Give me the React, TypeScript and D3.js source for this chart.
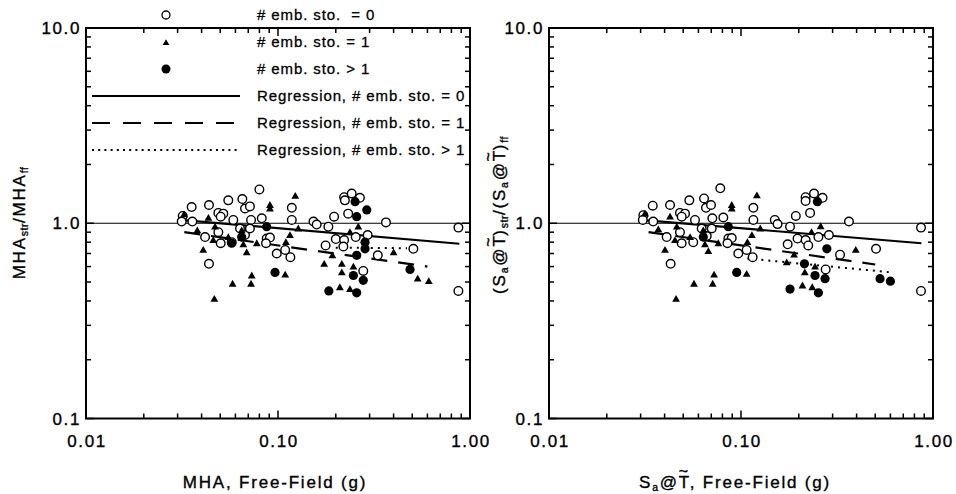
import React from 'react';
import * as d3 from 'd3';

// ---------- axes ----------
const xDomain: [number, number] = [0.01, 1];
const yDomain: [number, number] = [0.1, 10];
const xTickValues = [0.01, 0.1, 1];
const xTickLabels = ['0.01', '0.10', '1.00'];
const yTickValues = [0.1, 1, 10];
const yTickLabels = ['0.1', '1.0', '10.0'];

const legendLabels = [
  '# emb. sto.  = 0',
  '# emb. sto. = 1',
  '# emb. sto. > 1',
  'Regression, # emb. sto. = 0',
  'Regression, # emb. sto. = 1',
  'Regression, # emb. sto. > 1',
];

// ---------- left panel: MHA ----------
const mhaOpen: [number, number][] = [
  [0.080, 1.49], [0.0355, 1.21], [0.0437, 1.24], [0.0551, 1.31], [0.0652, 1.33], [0.0673, 1.19],
  [0.0714, 1.22], [0.0489, 1.13], [0.0519, 1.12], [0.0503, 1.08], [0.0319, 1.09], [0.0315, 1.02],
  [0.0358, 1.02], [0.0585, 1.04], [0.0724, 1.04], [0.0823, 1.06], [0.118, 1.20], [0.118, 1.04],
  [0.153, 1.02], [0.159, 0.985], [0.0417, 0.85], [0.0489, 0.90], [0.0503, 0.79], [0.0574, 0.80],
  [0.0673, 0.87], [0.0714, 0.94], [0.0873, 0.835], [0.0908, 0.845], [0.0866, 0.79], [0.0985, 0.70],
  [0.109, 0.73], [0.116, 0.67], [0.0437, 0.62], [0.0634, 0.94],
  [0.221, 1.36], [0.242, 1.42], [0.267, 1.35], [0.223, 1.31], [0.196, 1.08], [0.232, 1.12],
  [0.183, 0.96], [0.365, 1.01], [0.87, 0.95], [0.20, 0.83], [0.221, 0.82], [0.254, 0.85],
  [0.293, 0.87], [0.177, 0.77], [0.219, 0.76], [0.331, 0.685], [0.507, 0.74], [0.278, 0.57],
  [0.87, 0.45],
];
const mhaTri: [number, number][] = [
  [0.123, 1.38], [0.0908, 1.24], [0.0908, 1.19], [0.0324, 1.11], [0.0434, 1.065], [0.047, 0.96],
  [0.038, 0.92], [0.1155, 0.87], [0.1275, 0.94], [0.0551, 0.85], [0.0647, 0.92], [0.046, 0.82],
  [0.066, 0.78], [0.0775, 0.79], [0.110, 0.80], [0.0408, 0.73], [0.0687, 0.71], [0.073, 0.54],
  [0.109, 0.545], [0.058, 0.49], [0.0724, 0.49], [0.0466, 0.41],
  [0.262, 0.96], [0.174, 0.62], [0.192, 0.685], [0.215, 0.62], [0.215, 0.56], [0.247, 0.60],
  [0.21, 0.47], [0.237, 0.46], [0.40, 0.71], [0.534, 0.52], [0.61, 0.505], [0.237, 0.90],
];
const mhaFull: [number, number][] = [
  [0.0965, 0.56], [0.0647, 0.85], [0.0873, 0.96], [0.0574, 0.79], [0.252, 1.29], [0.29, 1.17],
  [0.257, 1.08], [0.284, 0.80], [0.284, 0.74], [0.257, 0.685], [0.247, 0.54], [0.278, 0.51],
  [0.184, 0.45], [0.257, 0.44], [0.487, 0.58],
];
const mhaReg0: [number, number][] = [[0.031, 1.04], [0.88, 0.785]];
const mhaReg1: [number, number][] = [[0.0325, 0.90], [0.60, 0.60]];
const mhaReg2: [number, number][] = [[0.20, 0.75], [0.47, 0.745]];

// ---------- right panel: Sa @ T~ ----------
const saOpen: [number, number][] = [
  [0.078, 1.51], [0.0347, 1.23], [0.0427, 1.24], [0.0538, 1.31], [0.0642, 1.34], [0.0657, 1.20],
  [0.0698, 1.24], [0.0481, 1.13], [0.0511, 1.12], [0.0491, 1.08], [0.031, 1.10], [0.0308, 1.04],
  [0.0349, 1.02], [0.0576, 1.04], [0.0709, 1.06], [0.0809, 1.07], [0.116, 1.20], [0.116, 1.04],
  [0.150, 1.04], [0.155, 0.99], [0.041, 0.85], [0.0481, 0.90], [0.0491, 0.79], [0.0564, 0.80],
  [0.0663, 0.86], [0.0704, 0.94], [0.0859, 0.835], [0.0895, 0.84], [0.085, 0.79], [0.0968, 0.70],
  [0.107, 0.73], [0.115, 0.67], [0.043, 0.62], [0.0624, 0.94],
  [0.217, 1.36], [0.24, 1.42], [0.266, 1.35], [0.217, 1.30], [0.193, 1.09], [0.229, 1.13],
  [0.18, 0.96], [0.365, 1.02], [0.866, 0.95], [0.197, 0.835], [0.217, 0.82], [0.224, 0.77],
  [0.253, 0.85], [0.287, 0.87], [0.175, 0.78], [0.328, 0.69], [0.505, 0.74], [0.276, 0.58],
  [0.866, 0.45],
];
const saTri: [number, number][] = [
  [0.121, 1.39], [0.0895, 1.24], [0.0895, 1.19], [0.0316, 1.12], [0.0427, 1.08], [0.0463, 0.96],
  [0.0371, 0.93], [0.114, 0.87], [0.126, 0.94], [0.0543, 0.85], [0.0636, 0.92], [0.0453, 0.82],
  [0.0649, 0.78], [0.0762, 0.79], [0.108, 0.80], [0.0402, 0.73], [0.0676, 0.72], [0.0724, 0.545],
  [0.107, 0.55], [0.0569, 0.49], [0.0712, 0.49], [0.0459, 0.41],
  [0.26, 0.965], [0.189, 0.69], [0.173, 0.63], [0.215, 0.56], [0.243, 0.60], [0.209, 0.48],
  [0.235, 0.47], [0.396, 0.73], [0.233, 0.90],
];
const saFull: [number, number][] = [
  [0.095, 0.56], [0.0636, 0.85], [0.0859, 0.96], [0.25, 1.29], [0.28, 0.74], [0.214, 0.62],
  [0.243, 0.54], [0.274, 0.52], [0.18, 0.46], [0.253, 0.44], [0.53, 0.52], [0.60, 0.505],
];
const saReg0: [number, number][] = [[0.030, 1.04], [0.87, 0.79]];
const saReg1: [number, number][] = [[0.033, 0.90], [0.50, 0.615]];
const saReg2: [number, number][] = [[0.108, 0.66], [0.61, 0.56]];

// ---------- layout ----------
const PW = 384;
const TOP = 28;
const BOTTOM = 418.5;
const FONT = '"Liberation Sans", Arial, Helvetica, sans-serif';

const triPath = (cx: number, cy: number, s = 1) =>
  `M${cx},${cy - 3.9 * s}L${cx + 3.9 * s},${cy + 2.9 * s}L${cx - 3.9 * s},${cy + 2.9 * s}Z`;

function minorTicks(domain: [number, number]) {
  const out: { v: number; major: boolean }[] = [];
  for (let d = domain[0]; d < domain[1] * 0.999; d *= 10) {
    for (let m = 1; m <= 9; m++) out.push({ v: d * m, major: m === 1 });
  }
  out.push({ v: domain[1], major: true });
  return out;
}

type PanelProps = {
  left: number;
  open: [number, number][];
  tri: [number, number][];
  full: [number, number][];
  reg0: [number, number][];
  reg1: [number, number][];
  reg2: [number, number][];
  yTitle: React.ReactNode;
  xTitle: React.ReactNode;
};

function Panel({ left, open, tri, full, reg0, reg1, reg2, yTitle, xTitle }: PanelProps) {
  const x = d3.scaleLog().domain(xDomain).range([left, left + PW]);
  const y = d3.scaleLog().domain(yDomain).range([BOTTOM, TOP]);
  const line = d3.line<[number, number]>().x(d => x(d[0])).y(d => y(d[1]));
  const xt = minorTicks(xDomain);
  const yt = minorTicks(yDomain);
  const txtStyle = { fontFamily: FONT, fontSize: 17, letterSpacing: 1.6 } as any;
  return (
    <g>
      <line x1={x(xDomain[0])} x2={x(xDomain[1])} y1={y(1)} y2={y(1)} stroke="#000" strokeWidth={1} />
      <path d={line(reg0) || ''} fill="none" stroke="#000" strokeWidth={2.2} />
      <path d={line(reg1) || ''} fill="none" stroke="#000" strokeWidth={2.2} strokeDasharray="16,11" />
      <path d={line(reg2) || ''} fill="none" stroke="#000" strokeWidth={2} strokeDasharray="2,5" />
      {open.map((d, i) => (
        <circle key={'o' + i} cx={x(d[0])} cy={y(d[1])} r={4.3} fill="#fff" stroke="#000" strokeWidth={1.4} />
      ))}
      {tri.map((d, i) => (
        <path key={'t' + i} d={triPath(x(d[0]), y(d[1]))} fill="#000" />
      ))}
      {full.map((d, i) => (
        <circle key={'f' + i} cx={x(d[0])} cy={y(d[1])} r={4.6} fill="#000" />
      ))}
      <rect x={left} y={TOP} width={PW} height={BOTTOM - TOP} fill="none" stroke="#000" strokeWidth={2} />
      {xt.map((t, i) => {
        const px = x(t.v);
        const L = t.major ? 8 : 5;
        return (
          <g key={'xt' + i}>
            <line x1={px} x2={px} y1={BOTTOM} y2={BOTTOM - L} stroke="#000" strokeWidth={1.5} />
            <line x1={px} x2={px} y1={TOP} y2={TOP + L} stroke="#000" strokeWidth={1.5} />
          </g>
        );
      })}
      {yt.map((t, i) => {
        const py = y(t.v);
        const L = t.major ? 8 : 5;
        return (
          <g key={'yt' + i}>
            <line x1={left} x2={left + L} y1={py} y2={py} stroke="#000" strokeWidth={1.5} />
            <line x1={left + PW} x2={left + PW - L} y1={py} y2={py} stroke="#000" strokeWidth={1.5} />
          </g>
        );
      })}
      {xTickValues.map((v, i) => (
        <text key={'xl' + i} x={x(v) + 1} y={447} textAnchor="middle" style={txtStyle} fill="#000" stroke="#000" strokeWidth={0.35}>
          {xTickLabels[i]}
        </text>
      ))}
      {yTickValues.map((v, i) => (
        <text key={'yl' + i} x={left - 5} y={y(v) + 6} textAnchor="end" style={txtStyle} fill="#000" stroke="#000" strokeWidth={0.35}>
          {yTickLabels[i]}
        </text>
      ))}
      {yTitle}
      {xTitle}
    </g>
  );
}

export default function App() {
  const titleStyle = { fontFamily: FONT, fontSize: 17, letterSpacing: 1.8 } as any;
  const sub = 10.5;
  // "T" with a tilde drawn above it: advance of T (10.4 + 1.8 spacing) back, raise, then return
  const tildeT = (k: string) => [
    <tspan key={k + 'T'}>T</tspan>,
    <tspan key={k + 'w'} dx={-12.4} dy={-11} fontSize={16}>~</tspan>,
  ];
  const leftY = (
    <text transform="translate(25,223) rotate(-90)" textAnchor="middle" style={titleStyle} fill="#000" stroke="#000" strokeWidth={0.35}>
      <tspan>MHA</tspan>
      <tspan fontSize={sub} dy={3} letterSpacing={0.5}>str</tspan>
      <tspan dy={-3}>/MHA</tspan>
      <tspan fontSize={sub} dy={3} letterSpacing={0.5}>ff</tspan>
    </text>
  );
  const leftX = (
    <text x={275} y={488} textAnchor="middle" style={titleStyle} fill="#000" stroke="#000" strokeWidth={0.35}>
      MHA, Free-Field (g)
    </text>
  );
  const rightY = (
    <text transform="translate(505,215) rotate(-90)" textAnchor="middle" style={titleStyle} fill="#000" stroke="#000" strokeWidth={0.35}>
      <tspan>(S</tspan>
      <tspan fontSize={sub} dy={3}>a</tspan>
      <tspan dy={-3}>@</tspan>
      {tildeT('a')}
      <tspan dy={11}>)</tspan>
      <tspan fontSize={sub} dy={3} letterSpacing={0.5}>str</tspan>
      <tspan dy={-3}>/(S</tspan>
      <tspan fontSize={sub} dy={3}>a</tspan>
      <tspan dy={-3}>@</tspan>
      {tildeT('b')}
      <tspan dy={11}>)</tspan>
      <tspan fontSize={sub} dy={3} letterSpacing={0.5}>ff</tspan>
    </text>
  );
  const rightX = (
    <text x={735} y={488} textAnchor="middle" style={titleStyle} fill="#000" stroke="#000" strokeWidth={0.35}>
      <tspan>S</tspan>
      <tspan fontSize={sub} dy={3}>a</tspan>
      <tspan dy={-3}>@</tspan>
      {tildeT('c')}
      <tspan dy={11}>, Free-Field (g)</tspan>
    </text>
  );

  const legRows = [15, 42, 69, 96, 123, 150];
  const legStyle = { fontFamily: FONT, fontSize: 15, letterSpacing: 0.9 } as any;

  return (
    <svg width={956} height={494} style={{ position: 'absolute', left: 0, top: 0, background: '#fff' }}>
      <rect x={0} y={0} width={956} height={494} fill="#fff" />
      <Panel left={86} open={mhaOpen} tri={mhaTri} full={mhaFull} reg0={mhaReg0} reg1={mhaReg1} reg2={mhaReg2} yTitle={leftY} xTitle={leftX} />
      <Panel left={549} open={saOpen} tri={saTri} full={saFull} reg0={saReg0} reg1={saReg1} reg2={saReg2} yTitle={rightY} xTitle={rightX} />
      <g>
        <circle cx={166} cy={legRows[0]} r={4} fill="#fff" stroke="#000" strokeWidth={1.3} />
        <path d={triPath(166, legRows[1] + 0.5, 0.85)} fill="#000" />
        <circle cx={166} cy={legRows[2]} r={4.5} fill="#000" />
        <line x1={92} x2={240} y1={legRows[3]} y2={legRows[3]} stroke="#000" strokeWidth={2.2} />
        <line x1={92} x2={240} y1={legRows[4]} y2={legRows[4]} stroke="#000" strokeWidth={2.2} strokeDasharray="18,13" />
        <line x1={92} x2={240} y1={legRows[5]} y2={legRows[5]} stroke="#000" strokeWidth={2} strokeDasharray="2,4.2" />
        {legendLabels.map((l, i) => (
          <text key={i} x={257} y={legRows[i] + 5} style={legStyle} fill="#000" stroke="#000" strokeWidth={0.3} xmlSpace="preserve">
            {l}
          </text>
        ))}
      </g>
    </svg>
  );
}
